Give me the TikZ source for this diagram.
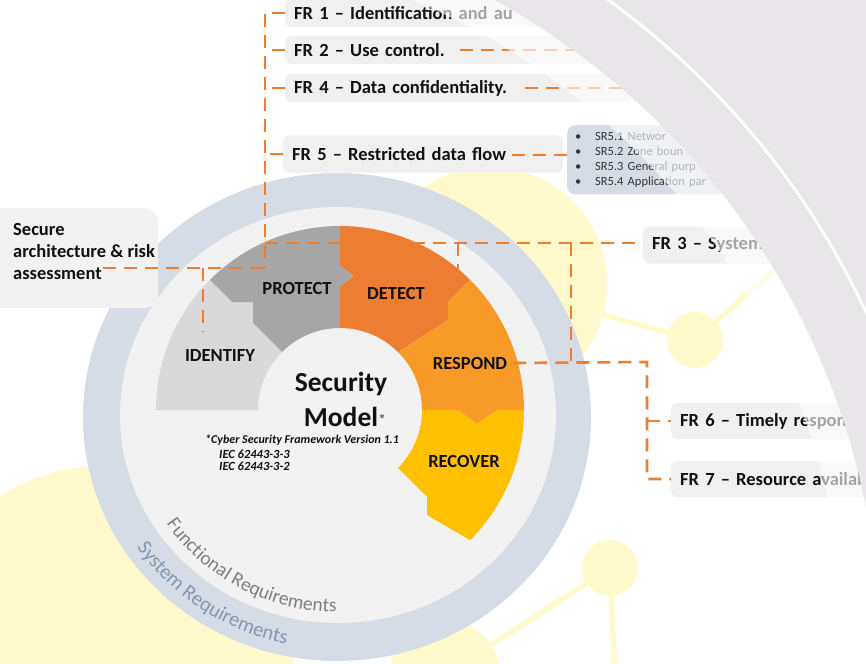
\documentclass[tikz,border=0pt]{standalone}
\usepackage{fontspec}
\setmainfont{Carlito}
\usetikzlibrary{decorations.text}

\definecolor{ringc}{HTML}{D6DCE5}
\definecolor{diskc}{HTML}{F2F2F2}
\definecolor{idc}{HTML}{D9D9D9}
\definecolor{prc}{HTML}{A6A6A6}
\definecolor{dec}{HTML}{ED7D31}
\definecolor{rsc}{HTML}{F79A27}
\definecolor{rcc}{HTML}{FFC000}
\definecolor{pale}{HTML}{FFF9CC}
\definecolor{boxc}{HTML}{F0F0F0}
\definecolor{secbox}{HTML}{F2F2F2}
\definecolor{srbox}{HTML}{D6DCE5}
\definecolor{bandgray}{HTML}{E8E6E8}
\definecolor{funcc}{HTML}{7F7F7F}
\definecolor{sysc}{HTML}{8497B0}
\definecolor{ink}{HTML}{111111}

\begin{document}
\begin{tikzpicture}[x=1pt,y=-1pt,
  conn/.style={draw=dec, line width=2.6pt, dash pattern=on 13pt off 8pt},
  frbox/.style={fill=boxc, rounded corners=6pt, anchor=west, align=left,
    inner xsep=9pt, inner ysep=0pt, text=ink,
    font=\fontsize{18.5}{22}\selectfont\bfseries},
  seglabel/.style={font=\fontsize{18.5}{22}\selectfont\bfseries, text=ink, inner sep=0pt},
  stick/.style={draw=pale, line width=5.5pt},
]
\useasboundingbox (0,0) rectangle (866,663);
\begin{scope}
\clip (0,0) rectangle (866,663);

% pale molecule shapes in the background
\coordinate (y1) at (490,284);
\coordinate (y2) at (695,340);
\coordinate (y3) at (805,243);
\coordinate (y4) at (610,568);
\coordinate (y5) at (445,675);
\coordinate (y6) at (103,656);
\coordinate (y7) at (616,700);
\draw[stick] (y1) -- (y2) -- (y3);
\draw[stick] (y5) -- (y4) -- (y7);
\fill[pale] (y1) circle[radius=117];
\fill[pale] (y2) circle[radius=28];
\fill[pale] (y3) circle[radius=32];
\fill[pale] (y4) circle[radius=28];
\fill[pale] (y5) circle[radius=55];
\fill[pale] (y6) circle[radius=190];

% requirement rings
\fill[ringc] (337,417) ellipse[x radius=254, y radius=244];
\fill[diskc] (338,415) ellipse[x radius=218, y radius=208];

% the five framework segments
\begin{scope}[shift={(340,410)}]
  \fill[idc] (180:184) arc[start angle=180,end angle=225,radius=184]
    -- (-108,-108) -- (-87,-108) -- (-87,-87)
    -- (225:82) arc[start angle=225,end angle=180,radius=82] -- cycle;
  \fill[prc] (225:184) arc[start angle=225,end angle=270,radius=184]
    -- (0,-145) -- (14,-134) -- (0,-123)
    -- (270:82) arc[start angle=270,end angle=225,radius=82]
    -- (-87,-87) -- (-87,-108) -- (-108,-108) -- cycle;
  \fill[dec] (270:184) arc[start angle=270,end angle=315,radius=184]
    -- (108,-108) -- (108,-90)
    -- (315:82) arc[start angle=315,end angle=270,radius=82]
    -- (0,-123) -- (14,-134) -- (0,-145) -- cycle;
  \fill[rsc] (315:184) arc[start angle=315,end angle=360,radius=184]
    -- (157,0) -- (137,14) -- (118,0)
    -- (0:82) arc[start angle=360,end angle=315,radius=82]
    -- (108,-90) -- (108,-108) -- cycle;
  \fill[rcc] (0:184) arc[start angle=0,end angle=45,radius=184]
    -- (87,105) -- (87,87)
    -- (45:82) arc[start angle=45,end angle=0,radius=82]
    -- (118,0) -- (137,14) -- (157,0) -- cycle;
\end{scope}

% curved ring captions
\path[decorate, decoration={text along path, text align=center, text color=funcc,
   text={|\fontsize{19.5}{20}\selectfont|Functional Requirements}}]
   (159.6,513.5) arc[start angle=150, end angle=87, x radius=206, y radius=197];
\path[decorate, decoration={text along path, text align=center, text color=sysc,
   text={|\fontsize{20.5}{21}\selectfont|System Requirements}}]
   (127.4,533) arc[start angle=150, end angle=98, x radius=242, y radius=232];

% segment labels
\node[seglabel] (identify) at (220,355) {IDENTIFY};
\node[seglabel] (protect) at (297,288) {PROTECT};
\node[seglabel] (detect) at (396,293) {DETECT};
\node[seglabel] (respond) at (470,363) {RESPOND};
\node[seglabel] (recover) at (464,461) {RECOVER};

% centre caption
\node[font=\fontsize{27.5}{35}\selectfont\bfseries, text=ink, align=center, inner sep=0pt]
  (model) at (341,399) {Security\\Model};
\node[font=\fontsize{14}{14}\selectfont\bfseries, text=ink!70, inner sep=0pt] (ast) at (382,419) {*};
\node[font=\fontsize{12}{12}\selectfont\bfseries\itshape, text=ink, anchor=west, inner sep=0pt]
  (csf) at (205,440) {*Cyber Security Framework Version 1.1};
\node[font=\fontsize{12.5}{11.5}\selectfont\bfseries\itshape, text=ink, align=left,
  anchor=north west, inner sep=0pt] (iec) at (219,450) {IEC 62443-3-3\\IEC 62443-3-2};

% architecture box
\fill[secbox, rounded corners=14pt] (-20,208) rectangle (158,308);
\node[font=\fontsize{18.5}{22}\selectfont\bfseries, text=ink, align=left, anchor=north west,
  inner sep=0pt] (secure) at (13,223) {Secure\\architecture \& risk\\assessment};

% functional requirement boxes
\node[frbox, minimum height=28pt, text width=560pt] (fr1) at (285,13) {FR 1 – Identification and au};
\node[frbox, minimum height=28pt, text width=560pt] (fr2) at (285,50) {FR 2 – Use control.};
\node[frbox, minimum height=28pt, text width=560pt] (fr4) at (285,88) {FR 4 – Data confidentiality.};
\node[frbox, minimum height=37pt, text width=262pt] (fr5) at (283,154) {FR 5 – Restricted data flow};
\node[frbox, minimum height=37pt, text width=300pt] (fr3) at (643,245) {FR 3 – System};
\node[frbox, minimum height=36pt, text width=300pt] (fr6) at (671,421) {FR 6 – Timely respons};
\node[frbox, minimum height=36pt, text width=300pt] (fr7) at (671,479) {FR 7 – Resource availab};
\node[fill=srbox, rounded corners=8pt, anchor=north west, align=left, inner xsep=8pt,
  inner ysep=7pt, text width=300pt, text=ink!85, font=\fontsize{12.5}{15}\selectfont]
  (sr) at (567,125) {\makebox[20pt][l]{\textbullet}SR5.1 Networ\\
                     \makebox[20pt][l]{\textbullet}SR5.2 Zone boun\\
                     \makebox[20pt][l]{\textbullet}SR5.3 General purp\\
                     \makebox[20pt][l]{\textbullet}SR5.4 Application par};

% dashed connectors
\coordinate (spbot) at (265,268);
\coordinate (sa) at (103,268);
\coordinate (idtop) at (203,268);
\coordinate (idend) at (203,332);
\coordinate (j3) at (265,243);
\coordinate (dj) at (458,243);
\coordinate (dt) at (458,269);
\coordinate (rj1) at (571,243);
\coordinate (rj2) at (571,362);
\coordinate (rj3) at (647,362);
\coordinate (f2a) at (460,50);
\coordinate (f2b) at (660,50);
\coordinate (f4a) at (525,88);
\coordinate (f4b) at (680,88);
\coordinate (f5a) at (512,155);
\draw[conn] (fr1.west) -| (spbot);
\draw[conn] (fr2.west) -- (fr2.west -| spbot);
\draw[conn] (fr4.west) -- (fr4.west -| spbot);
\draw[conn] (fr5.west) -- (fr5.west -| spbot);
\draw[conn] (sa) -- (spbot);
\draw[conn] (idtop) -- (idend);
\draw[conn] (j3) -- (j3 -| fr3.west);
\draw[conn] (dj) -- (dt);
\draw[conn] (rj1) -- (rj2);
\draw[conn] ([xshift=6pt]respond.east) -- (rj3) |- (fr7.west);
\draw[conn] (rj3 |- fr6.west) -- (fr6.west);
\draw[conn] (f2a) -- (f2b);
\draw[conn] (f4a) -- (f4b);
\draw[conn] (f5a) -- (f5a -| sr.west);

% sweeping grey band on the right
\coordinate (arcc) at (136,652);
\fill[white, opacity=0.62, even odd rule] (arcc) circle[radius=744] (arcc) circle[radius=708];
\fill[bandgray, even odd rule] (-20,-20) rectangle (900,700) (arcc) circle[radius=744];
\draw[white, line width=3pt] (arcc) circle[radius=805];
\end{scope}
\end{tikzpicture}
\end{document}
